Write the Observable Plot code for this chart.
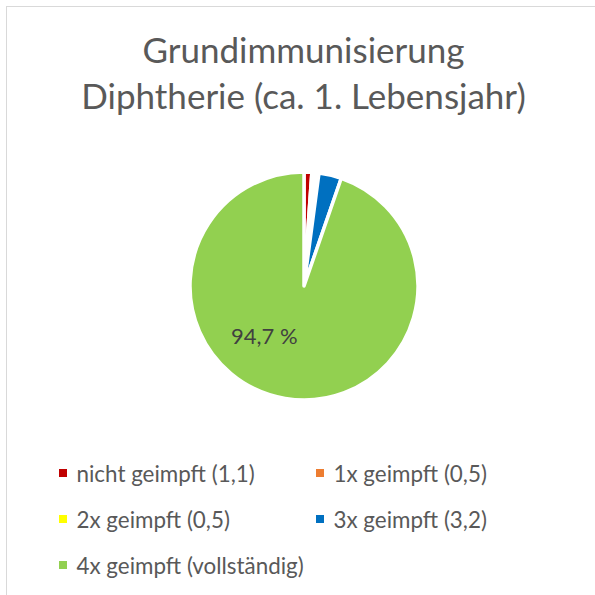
<!DOCTYPE html>
<html>
<head>
<meta charset="utf-8">
<script src="https://cdn.jsdelivr.net/npm/d3@7"></script>
<script src="https://cdn.jsdelivr.net/npm/@observablehq/plot@0.6"></script>
<style>
  html, body { margin: 0; padding: 0; width: 595px; height: 595px; overflow: hidden; background: #fff; }
  body { font-family: Lato, "Open Sans", sans-serif; color: #595959; position: relative; }
  #frame { position: absolute; left: 6px; top: 6px; width: 640px; height: 640px; border: 1px solid #d9d9d9; box-sizing: border-box; }
  #title { position: absolute; left: 0; top: 26px; width: 607px; text-align: center; font-size: 35px; line-height: 46px; color: #595959; }
  #pie { position: absolute; left: 183.5px; top: 166px; }
  .leg { position: absolute; font-size: 22.4px; color: #595959; white-space: nowrap; display: flex; align-items: center; height: 30px; }
  .sw { width: 8px; height: 8px; margin-right: 9.5px; flex: none; }
</style>
</head>
<body>
<div id="frame"></div>
<div id="title">Grundimmunisierung<br>Diphtherie (ca. 1. Lebensjahr)</div>
<div id="pie"></div>
<div id="legend"></div>
<script>
// Data
const categories = ["nicht geimpft", "1x geimpft", "2x geimpft", "3x geimpft", "4x geimpft"];
const values = [1.1, 0.5, 0.5, 3.2, 94.7];
const legendLabels = ["nicht geimpft (1,1)", "1x geimpft (0,5)", "2x geimpft (0,5)", "3x geimpft (3,2)", "4x geimpft (vollständig)"];
const colors = ["#c00000", "#ed7d31", "#ffff00", "#0070c0", "#92d050"];
const labelText = "94,7 %";

const data = categories.map((c, i) => ({category: c, value: values[i], color: colors[i]}));
const arcs = d3.pie().sort(null).value(d => d.value)(data);

// label position: green slice at ~0.59 radius
const g = arcs[4];
const mid = (g.startAngle + g.endAngle) / 2;
const labelData = [{text: labelText, x: 0.59 * Math.sin(mid), y: 0.59 * Math.cos(mid)}];

function pieMark(index, scales, values, dimensions, context) {
  const cx = scales.x(0), cy = scales.y(0);
  const r = Math.abs(scales.x(1) - scales.x(0));
  const arc = d3.arc().innerRadius(0).outerRadius(r);
  const gEl = d3.create("svg:g").attr("transform", `translate(${cx},${cy})`);
  gEl.selectAll("path").data(arcs).join("path")
    .attr("d", arc)
    .attr("fill", d => d.data.color)
    .attr("stroke", "#fff")
    .attr("stroke-width", 3.5)
    .attr("stroke-linejoin", "round");
  return gEl.node();
}

const chart = Plot.plot({
  width: 240,
  height: 240,
  margin: 6,
  x: {domain: [-1, 1], axis: null},
  y: {domain: [-1, 1], axis: null},
  marks: [
    pieMark,
    Plot.text(labelData, {x: "x", y: "y", text: "text", dx: -29, dy: -16, fontSize: 22, fill: "#404040", fontFamily: "Lato, sans-serif"})
  ]
});
document.getElementById("pie").appendChild(chart);

// Legend
const legendPos = [[59, 474], [316, 474], [59, 520], [316, 520], [59, 566]];
const legend = document.getElementById("legend");
legendLabels.forEach((t, i) => {
  const d = document.createElement("div");
  d.className = "leg";
  d.style.left = legendPos[i][0] + "px";
  d.style.top = (legendPos[i][1] - 16) + "px";
  const s = document.createElement("span");
  s.className = "sw";
  s.style.background = colors[i];
  d.appendChild(s);
  d.appendChild(document.createTextNode(t));
  legend.appendChild(d);
});
</script>
</body>
</html>
